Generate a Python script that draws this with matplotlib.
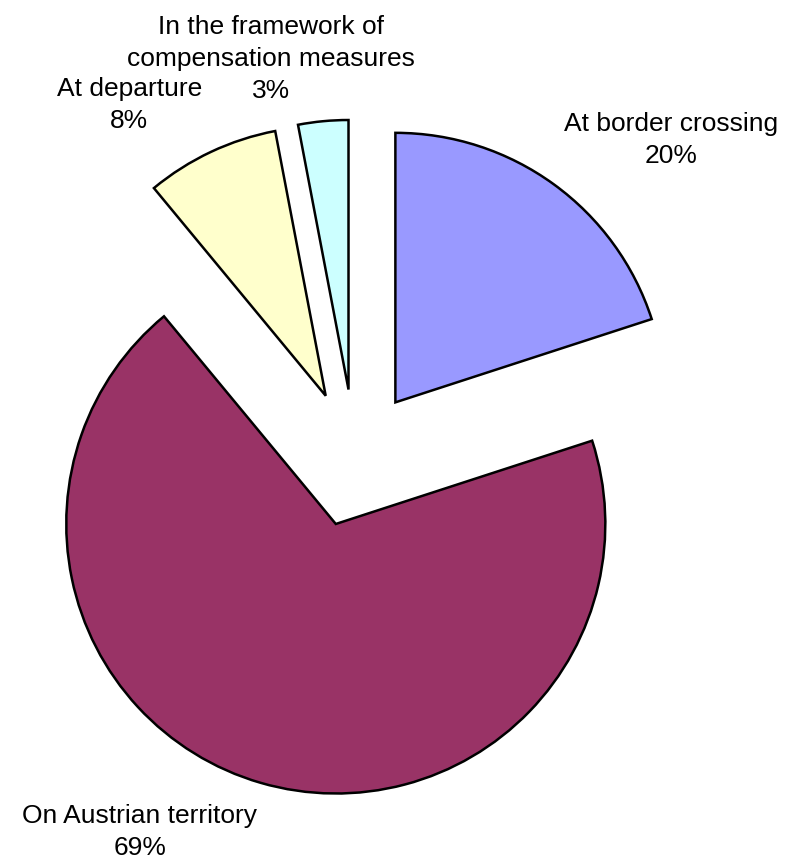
import matplotlib
matplotlib.use("Agg")
import matplotlib.pyplot as plt

# Where the checks took place (share of cases, %), clockwise from 12 o'clock
categories = [
    "At border crossing",
    "On Austrian territory",
    "At departure",
    "In the framework of\ncompensation measures",
]
shares = [20, 69, 8, 3]
colors = ["#9999FF", "#993366", "#FFFFCC", "#CCFFFF"]

# label anchor (baseline of the percentage line) in pie-radius units, relative to pie centre
label_pos = [(1.173, 1.095), (-0.798, -1.473), (-0.837, 1.224), (-0.312, 1.334)]

plt.rcParams["font.family"] = ["Liberation Sans", "DejaVu Sans"]

fig = plt.figure(figsize=(7.9, 8.65), dpi=100)
ax = fig.add_axes([0, 0, 1, 1])

ax.pie(
    shares,
    colors=colors,
    explode=[0.255] * len(shares),
    startangle=90,
    counterclock=False,
    radius=1.0,
    wedgeprops=dict(edgecolor="black", linewidth=1.8),
)

for name, val, (x, y) in zip(categories, shares, label_pos):
    ax.text(x, y, f"{name}\n{val}%", ha="center", va="baseline",
            multialignment="center", fontsize=19, linespacing=1.42, color="black")

ax.set_xlim(-1.317, 1.614)
ax.set_ylim(-1.510, 1.699)
ax.set_aspect("equal")
ax.axis("off")

fig.savefig("out.png", dpi=100, facecolor="white")
